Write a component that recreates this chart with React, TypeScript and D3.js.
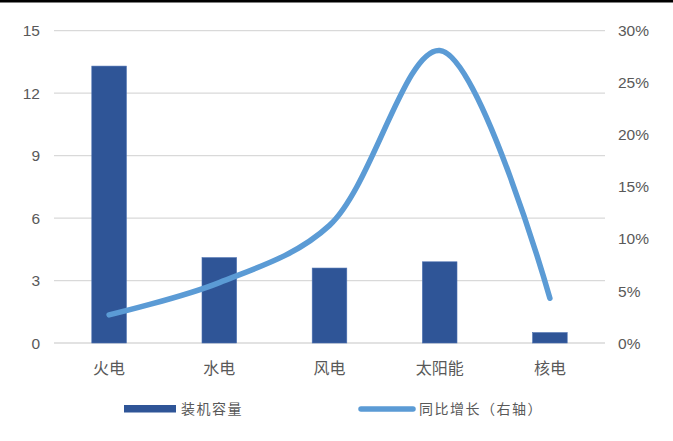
import * as d3 from "d3";

const categories = ["火电", "水电", "风电", "太阳能", "核电"];
const capacity = [13.3, 4.1, 3.6, 3.9, 0.5];
const growth = [2.7, 5.8, 11.3, 28.1, 4.3];
const leftTicks = [0, 3, 6, 9, 12, 15];
const rightTicks = [0, 5, 10, 15, 20, 25, 30];
const seriesNames = ["装机容量", "同比增长（右轴）"];

const WIDTH = 673;
const HEIGHT = 441;
const PLOT = { left: 54, right: 605, top: 30.7, bottom: 343 };

const BAR_COLOR = "#2F5597";
const LINE_COLOR = "#5B9BD5";
const GRID_COLOR = "#D9D9D9";
const TEXT_COLOR = "#595959";

export default function App() {
  const xCenter = d3.scalePoint<string>().domain(categories).range([PLOT.left, PLOT.right]).padding(0.5);
  const yLeft = d3.scaleLinear().domain([0, 15]).range([PLOT.bottom, PLOT.top]);
  const yRight = d3.scaleLinear().domain([0, 30]).range([PLOT.bottom, PLOT.top]);

  const line = d3
    .line<number>()
    .x((_, i) => xCenter(categories[i]) as number)
    .y((d) => yRight(d))
    .curve(d3.curveCatmullRom.alpha(0.5));

  // bar width is ~31% of the category step, like Excel's gap width
  const barW = xCenter.step() * 0.314;

  return (
    <svg
      width={WIDTH}
      height={HEIGHT}
      style={{ position: "absolute", left: 0, top: 0, background: "#fff" }}
      fontFamily="'Liberation Sans', Arial, sans-serif"
    >
      <rect x={0} y={0} width={WIDTH} height={2.5} fill="#000" />

      {/* gridlines */}
      {leftTicks.map((t) => (
        <line
          key={t}
          x1={PLOT.left}
          x2={PLOT.right}
          y1={yLeft(t)}
          y2={yLeft(t)}
          stroke={GRID_COLOR}
          strokeWidth={1.3}
        />
      ))}

      {/* left axis labels */}
      {leftTicks.map((t) => (
        <text
          key={t}
          x={40}
          y={yLeft(t)}
          dy="0.36em"
          textAnchor="end"
          fontSize={15.5}
          fill={TEXT_COLOR}
        >
          {t}
        </text>
      ))}

      {/* right axis labels */}
      {rightTicks.map((t) => (
        <text
          key={t}
          x={618}
          y={yRight(t)}
          dy="0.36em"
          textAnchor="start"
          fontSize={15.5}
          fill={TEXT_COLOR}
        >
          {t}%
        </text>
      ))}

      {/* bars */}
      {capacity.map((v, i) => (
        <rect
          key={categories[i]}
          x={(xCenter(categories[i]) as number) - barW / 2}
          y={yLeft(v)}
          width={barW}
          height={yLeft(0) - yLeft(v)}
          fill={BAR_COLOR}
          stroke="#4A6FB0"
          strokeWidth={0.6}
        />
      ))}

      {/* growth line */}
      <path
        d={line(growth) ?? ""}
        fill="none"
        stroke={LINE_COLOR}
        strokeWidth={5.5}
        strokeLinecap="round"
        strokeLinejoin="round"
      />

      {/* category labels */}
      {categories.map((c) => (
        <text
          key={c}
          x={xCenter(c) as number}
          y={374}
          textAnchor="middle"
          fontSize={16}
          fill={TEXT_COLOR}
          fontFamily="'Noto Sans CJK SC', sans-serif"
        >
          {c}
        </text>
      ))}

      {/* legend */}
      <rect x={124} y={405} width={52} height={7.5} fill={BAR_COLOR} />
      <text
        x={181}
        y={414}
        fontSize={14}
        fill={TEXT_COLOR}
        fontFamily="'Noto Sans CJK SC', sans-serif"
        letterSpacing={1.5}
      >
        {seriesNames[0]}
      </text>
      <line
        x1={361}
        x2={413}
        y1={409}
        y2={409}
        stroke={LINE_COLOR}
        strokeWidth={5.5}
        strokeLinecap="round"
      />
      <text
        x={419}
        y={414}
        fontSize={14}
        fill={TEXT_COLOR}
        fontFamily="'Noto Sans CJK SC', sans-serif"
        letterSpacing={1.5}
      >
        {seriesNames[1]}
      </text>
    </svg>
  );
}
